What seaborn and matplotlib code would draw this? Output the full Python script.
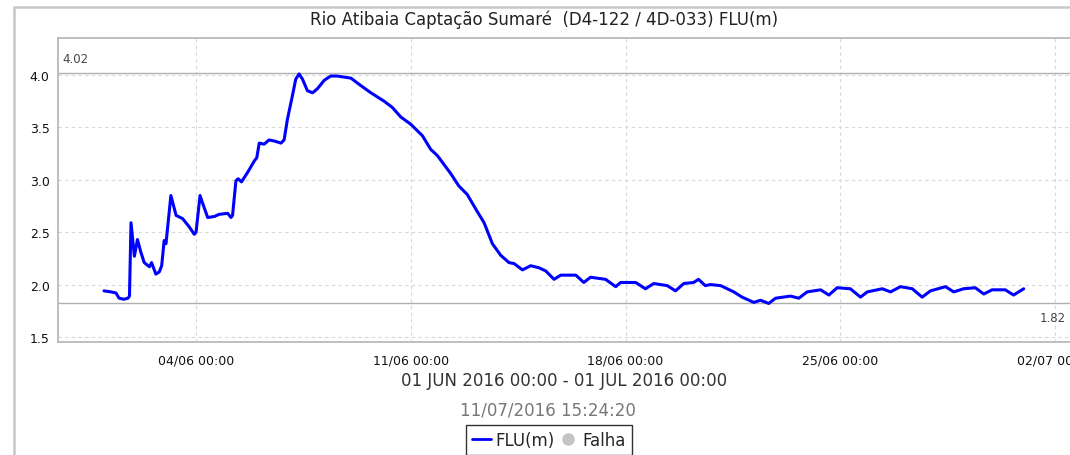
import pandas as pd
import numpy as np
import matplotlib
matplotlib.use("Agg")
import matplotlib.pyplot as plt
import matplotlib.dates as mdates
from matplotlib.lines import Line2D
from matplotlib.patches import Rectangle
import seaborn as sns

# days since 01/06/2016 00:00 and river level FLU (m)
days = [0.00, 0.23, 0.39, 0.49, 0.65, 0.78, 0.83, 0.88, 0.99, 1.09, 1.20, 1.31,
        1.48, 1.55, 1.69, 1.80, 1.88, 1.96, 2.02, 2.18, 2.35, 2.56, 2.78, 2.94,
        3.00, 3.13, 3.21, 3.38, 3.60, 3.75, 4.03, 4.14, 4.19, 4.30, 4.37, 4.48,
        4.68, 4.90, 4.98, 5.06, 5.22, 5.38, 5.55, 5.77, 5.87, 5.98, 6.14, 6.25,
        6.36, 6.47, 6.63, 6.80, 6.96, 7.18, 7.39, 7.60, 7.83, 8.05, 8.32, 8.70,
        9.13, 9.40, 9.67, 10.00, 10.38, 10.65, 10.87, 11.30, 11.57, 11.84, 12.12,
        12.39, 12.66, 12.93, 13.20, 13.37, 13.64, 13.91, 14.18, 14.40, 14.67,
        14.89, 15.38, 15.64, 15.86, 16.35, 16.68, 16.84, 17.33, 17.65, 17.92,
        18.36, 18.63, 18.90, 19.22, 19.38, 19.60, 19.77, 20.10, 20.53, 20.80,
        21.18, 21.40, 21.67, 21.89, 22.38, 22.65, 22.92, 23.36, 23.63, 23.90,
        24.33, 24.66, 24.88, 25.37, 25.64, 25.96, 26.35, 26.67, 26.94, 27.43,
        27.70, 28.02, 28.40, 28.68, 28.95, 29.38, 29.65, 29.98]
flu = [1.94, 1.93, 1.92, 1.87, 1.86, 1.87, 1.89, 2.59, 2.27, 2.43, 2.31, 2.21,
       2.17, 2.21, 2.10, 2.12, 2.18, 2.42, 2.39, 2.85, 2.66, 2.63, 2.55, 2.48,
       2.50, 2.85, 2.78, 2.64, 2.65, 2.67, 2.68, 2.64, 2.66, 2.99, 3.01, 2.98,
       3.07, 3.18, 3.21, 3.35, 3.34, 3.38, 3.37, 3.35, 3.38, 3.58, 3.80, 3.96,
       4.01, 3.96, 3.85, 3.83, 3.87, 3.95, 3.99, 3.99, 3.98, 3.97, 3.91, 3.83,
       3.75, 3.69, 3.60, 3.53, 3.42, 3.29, 3.23, 3.06, 2.94, 2.86, 2.72,
       2.59, 2.39, 2.28, 2.21, 2.20, 2.14, 2.18, 2.16, 2.13, 2.05,
       2.09, 2.09, 2.02, 2.07, 2.05, 1.98, 2.02, 2.02, 1.96, 2.01,
       1.99, 1.94, 2.01, 2.02, 2.05, 1.99, 2.00, 1.99, 1.93, 1.88,
       1.83, 1.85, 1.82, 1.87, 1.89, 1.87, 1.93, 1.95, 1.90, 1.97,
       1.96, 1.88, 1.93, 1.96, 1.93, 1.98, 1.96, 1.88, 1.94, 1.98,
       1.93, 1.96, 1.97, 1.91, 1.95, 1.95, 1.90, 1.96]
max_level = 4.02
min_level = 1.82
y_ticks = [1.5, 2.0, 2.5, 3.0, 3.5, 4.0]

title = "Rio Atibaia Captação Sumaré  (D4-122 / 4D-033) FLU(m)"
period = "01 JUN 2016 00:00 - 01 JUL 2016 00:00"
stamp = "11/07/2016 15:24:20"

df = pd.DataFrame({
    "time": pd.Timestamp("2016-06-01") + pd.to_timedelta(days, unit="D"),
    "FLU(m)": flu,
})

sns.set_theme(style="white")
plt.rcParams["font.family"] = ["DejaVu Sans"]

fig = plt.figure(figsize=(10.7, 4.56), dpi=100)
ax = fig.add_axes([58 / 1070, 1 - 343 / 456, 1012 / 1070, 304 / 456])

# outer panel border
fig.patches.append(Rectangle((14 / 1070, -0.1), 1.2, 1 - 8 / 456 + 0.1,
                             transform=fig.transFigure, fill=False,
                             edgecolor="#c8c8c8", linewidth=1.8))

sns.lineplot(data=df, x="time", y="FLU(m)", ax=ax, color="#0000ff",
             linewidth=2.2, legend=False)

ax.axhline(max_level, color="#b0b0b0", linewidth=1.0, zorder=1)
ax.axhline(min_level, color="#b0b0b0", linewidth=1.0, zorder=1)
ax.annotate(f"{max_level:.2f}", xy=(0, max_level), xycoords=("axes fraction", "data"),
            xytext=(4, 8), textcoords="offset pixels", fontsize=8.5,
            color="#444444", va="bottom", ha="left")
ax.annotate(f"{min_level:.2f}", xy=(0.996, min_level), xycoords=("axes fraction", "data"),
            xytext=(0, -8), textcoords="offset pixels", fontsize=8.5,
            color="#444444", va="top", ha="right")

ax.set_xlim(pd.Timestamp("2016-05-30 12:00"), pd.Timestamp("2016-07-02 11:45"))
ax.set_ylim(1.452, 4.353)
ax.set_yticks(y_ticks)
ax.xaxis.set_major_locator(mdates.WeekdayLocator(byweekday=mdates.SA))
ax.xaxis.set_major_formatter(mdates.DateFormatter("%d/%m %H:%M"))
ax.set_xlabel("")
ax.set_ylabel("")
ax.tick_params(axis="both", labelsize=9, colors="#111111", length=3,
               width=0.8, color="#999999", direction="out")
ax.tick_params(axis="x", pad=5)
ax.tick_params(axis="y", pad=3)
ax.grid(True, linestyle=(0, (3, 3)), color="#d8d8d8", linewidth=0.8)

for side in ["top", "left", "bottom"]:
    ax.spines[side].set_color("#b4b4b4")
    ax.spines[side].set_linewidth(1.2)
ax.spines["right"].set_visible(False)

fig.text(544 / 1070, 1 - 20 / 456, title, ha="center", va="center",
         fontsize=12, color="#222222")
fig.text(564 / 1070, 1 - 381 / 456, period, ha="center", va="center",
         fontsize=12, color="#333333")
fig.text(548 / 1070, 1 - 411 / 456, stamp, ha="center", va="center",
         fontsize=12, color="#777777")

handles = [Line2D([], [], color="#0000ff", linewidth=2),
           Line2D([], [], color="#c4c4c4", marker="o", linestyle="none",
                  markersize=8)]
leg = fig.legend(handles, ["FLU(m)", "Falha"], loc="upper center",
                 bbox_to_anchor=(549 / 1070, 1 - 426 / 456), ncol=2,
                 fontsize=12, frameon=True, fancybox=False,
                 handlelength=1.1, handletextpad=0.3, columnspacing=0.25,
                 borderpad=0.35, borderaxespad=0)
leg.get_frame().set_edgecolor("#000000")
leg.get_frame().set_linewidth(1.0)

fig.savefig("out.png", dpi=100)
plt.close(fig)
